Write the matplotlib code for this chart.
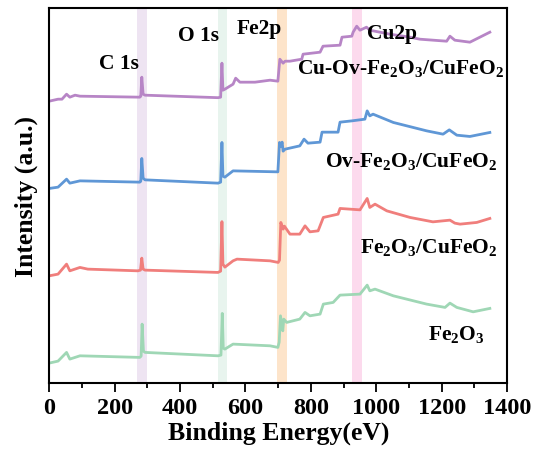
import matplotlib
matplotlib.use('Agg')
import matplotlib.pyplot as plt
from matplotlib.ticker import MultipleLocator

plt.rcParams['font.family'] = 'Liberation Serif'
plt.rcParams['font.weight'] = 'bold'
plt.rcParams['mathtext.fontset'] = 'custom'
plt.rcParams['mathtext.rm'] = 'Liberation Serif:bold'
plt.rcParams['mathtext.default'] = 'rm'

# survey spectra (stacked, arbitrary units)
e_cu_ov = [0, 27, 39, 53, 63, 79, 94, 277, 280, 283, 287, 293, 516, 524, 528, 531, 537, 562, 570, 583, 629, 675, 699,
           705, 715, 721, 736, 772, 776, 828, 837, 889, 895, 925, 929, 940, 950, 970, 980, 1042, 1103, 1133, 1215,
           1225, 1240, 1286, 1347]
i_cu_ov = [281, 283, 283, 288, 285, 287, 286, 285, 286, 305, 288, 287, 284.5, 285, 319, 292, 293, 298, 304, 300, 300,
           302, 301, 323, 319, 321, 321, 323, 328, 330, 336, 337, 345, 346, 350, 356, 352, 355, 352, 348, 345, 343,
           341, 346, 342, 340, 350]

e_ov = [0, 27, 53, 63, 94, 277, 280, 283, 287, 293, 516, 524, 528, 531, 537, 562, 699, 704, 708, 712, 715, 721,
        766, 779, 791, 828, 834, 883, 889, 925, 965, 972, 980, 990, 1052, 1154, 1204, 1223, 1246, 1286, 1347]
i_ov = [193.7, 195, 203, 199, 201.3, 200, 201, 223.7, 204, 202.3, 199, 200, 239.7, 206, 205, 211.3, 210.3, 239.7,
        236, 240, 231, 233, 236.3, 243, 239, 240, 250, 250, 260, 261.3, 263, 271.3, 266.3, 268, 259.7, 251.3, 248,
        252.3, 247, 245.7, 249.7]

e_fe_cu = [0, 27, 53, 63, 94, 118, 271, 279, 283, 287, 293, 516, 524, 528, 531, 537, 562, 574, 675, 700, 704,
           708, 715, 719, 736, 766, 782, 797, 822, 838, 883, 889, 950, 972, 980, 996, 1032, 1103, 1173, 1225, 1240,
           1256, 1307, 1347]
i_fe_cu = [106.3, 108, 118, 111.3, 114.7, 113, 111.3, 112, 124, 113, 112, 109.7, 111, 160.5, 118, 115, 121.3, 123,
           121.3, 119.7, 122, 159.7, 153, 156, 148, 148, 156.3, 150.3, 151.3, 164.7, 168, 173.7, 172.3, 183.7, 174.7,
           178, 171.3, 164.7, 160.3, 162, 159, 158, 159.7, 163.7]

e_fe2o3 = [0, 27, 53, 63, 94, 277, 281, 284, 288, 293, 516, 525, 529, 532, 537, 562, 675, 699, 703, 707, 714, 717,
           726, 766, 782, 797, 828, 838, 868, 889, 950, 972, 980, 996, 1052, 1154, 1210, 1225, 1246, 1296, 1347]
i_fe2o3 = [19, 21, 29.7, 23, 26.3, 24.7, 26, 58, 31, 29.7, 26.3, 27, 68.7, 34, 33, 38, 36.3, 34.7, 40, 66.3, 51.3,
           63, 59.7, 63, 69.7, 66.3, 68, 78, 79.7, 87, 88, 97, 91.3, 93, 86.3, 78, 74.7, 79, 74.7, 70.3, 73.7]

series_names = [r'Cu-Ov-Fe$_2$O$_3$/CuFeO$_2$', r'Ov-Fe$_2$O$_3$/CuFeO$_2$', r'Fe$_2$O$_3$/CuFeO$_2$',
                r'Fe$_2$O$_3$']
colors = ['#b785c6', '#5f97d6', '#f07e7c', '#9fd7b5']

# peak regions and their labels
band_ranges = [(269, 298), (517, 545), (697, 726), (926, 955)]
band_colors = ['#eee4f2', '#e8f4ee', '#fde4ca', '#fcdaed']
peak_names = ['C 1s', 'O 1s', 'Fe2p', 'Cu2p']
peak_x = [213, 455, 641, 1048]
peak_y = [319, 347, 354, 349]

fig = plt.figure(figsize=(5.35, 4.6), dpi=100)
ax = fig.add_axes([0.092, 0.165, 0.856, 0.815])

for (lo, hi), c in zip(band_ranges, band_colors):
    ax.axvspan(lo, hi, color=c, lw=0, zorder=0)

spectra = [(e_cu_ov, i_cu_ov), (e_ov, i_ov), (e_fe_cu, i_fe_cu), (e_fe2o3, i_fe2o3)]
for (e, i), c in zip(spectra, colors):
    ax.plot(e, i, color=c, lw=2, zorder=2)

for name, x, y in zip(peak_names, peak_x, peak_y):
    ax.text(x, y, name, fontsize=15.5, fontweight='bold', ha='center', va='center', zorder=3)

label_x = [1390, 1370, 1370, 1330]
label_y = [315, 222, 136, 49]
for name, x, y in zip(series_names, label_x, label_y):
    ax.text(x, y, name, fontsize=15.5, fontweight='bold', ha='right', va='center', zorder=3)

ax.set_xlim(0, 1400)
ax.set_ylim(-1, 374)
ax.xaxis.set_major_locator(MultipleLocator(200))
ax.xaxis.set_minor_locator(MultipleLocator(100))
ax.tick_params(axis='x', which='major', direction='out', length=6.5, width=1.3, labelsize=17.5)
ax.tick_params(axis='x', which='minor', direction='out', length=3.5, width=1.3)
ax.set_yticks([])
for s in ax.spines.values():
    s.set_linewidth(1.5)

ax.set_xlabel('Binding Energy(eV)', fontsize=18.5, fontweight='bold', labelpad=2)
ax.set_ylabel('Intensity (a.u.)', fontsize=18.5, fontweight='bold', labelpad=8)

fig.savefig('out.png', dpi=100)
